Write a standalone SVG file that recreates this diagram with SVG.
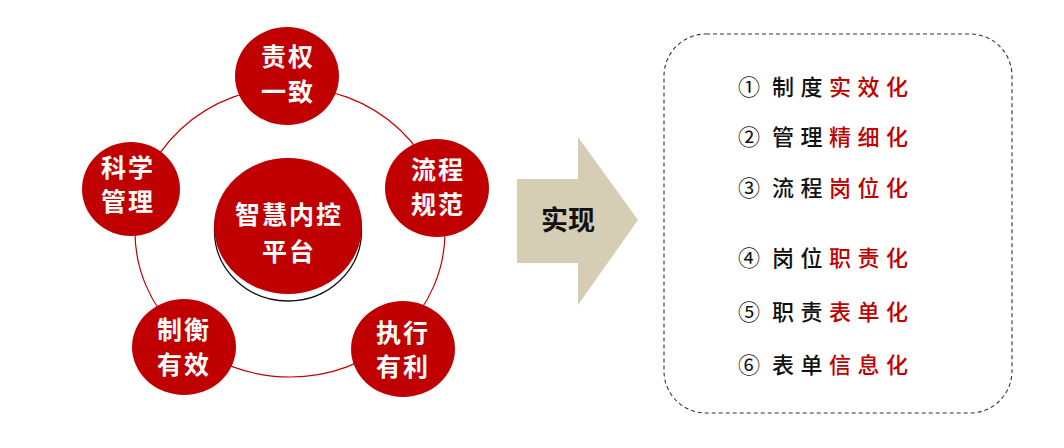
<svg xmlns="http://www.w3.org/2000/svg" width="1064" height="448" viewBox="0 0 1064 448">
<style>
.node{fill:#C00000;}
.nt{font-family:"Noto Sans CJK SC","Noto Sans",sans-serif;font-weight:700;font-size:25px;fill:#fff;text-anchor:middle;letter-spacing:2px;}
.ring{fill:none;stroke:#C00000;stroke-width:1.2;}
.lt{font-family:"Noto Sans CJK SC","Noto Sans",sans-serif;font-weight:500;font-size:22px;fill:#111;letter-spacing:6.5px;}
.red{fill:#C00000;}
.num{font-family:"Noto Sans CJK SC","DejaVu Sans",sans-serif;font-size:22px;fill:#111;text-anchor:middle;}
</style>
<rect width="1064" height="448" fill="#fff"/>
<g id="connectors">
<ellipse class="ring" cx="290" cy="232" rx="155" ry="145"/>
</g>
<g id="center">
<ellipse cx="288" cy="231" rx="73.5" ry="70" fill="#fff" stroke="#111" stroke-width="1.3"/>
<ellipse class="node" cx="288" cy="226" rx="74" ry="68"/>
<text class="nt" x="289" y="224">智慧内控</text>
<text class="nt" x="289" y="261">平台</text>
</g>
<g id="n-top">
<ellipse class="node" cx="287" cy="76" rx="52" ry="49"/>
<text class="nt" x="288" y="66">责权</text>
<text class="nt" x="288" y="101">一致</text>
</g>
<g id="n-right">
<ellipse class="node" cx="437" cy="188" rx="52" ry="49"/>
<text class="nt" x="438" y="179">流程</text>
<text class="nt" x="438" y="214">规范</text>
</g>
<g id="n-left">
<ellipse class="node" cx="131" cy="189" rx="49" ry="47"/>
<text class="nt" x="128" y="177">科学</text>
<text class="nt" x="128" y="211">管理</text>
</g>
<g id="n-bl">
<ellipse class="node" cx="184" cy="347" rx="52" ry="48"/>
<text class="nt" x="184" y="339">制衡</text>
<text class="nt" x="184" y="374">有效</text>
</g>
<g id="n-br">
<ellipse class="node" cx="403" cy="349" rx="52" ry="48"/>
<text class="nt" x="403" y="342">执行</text>
<text class="nt" x="403" y="376">有利</text>
</g>
<g id="arrow">
<polygon points="517,179 578,179 578,137 638,220 578,305 578,263 517,263" fill="#D6CDB5"/>
<text x="568" y="230" font-family="'Noto Sans CJK SC',sans-serif" font-weight="700" font-size="27" fill="#111" text-anchor="middle">实现</text>
</g>
<g id="box">
<rect x="664" y="34" width="348" height="379" rx="42" ry="42" fill="none" stroke="#333" stroke-width="1.1" stroke-dasharray="4,3"/>
<text class="num" x="749" y="95">①</text>
<text class="lt" x="772" y="95">制度<tspan class="red">实效化</tspan></text>
<text class="num" x="749" y="145">②</text>
<text class="lt" x="772" y="145">管理<tspan class="red">精细化</tspan></text>
<text class="num" x="749" y="196">③</text>
<text class="lt" x="772" y="196">流程<tspan class="red">岗位化</tspan></text>
<text class="num" x="749" y="266">④</text>
<text class="lt" x="772" y="266">岗位<tspan class="red">职责化</tspan></text>
<text class="num" x="749" y="320">⑤</text>
<text class="lt" x="772" y="320">职责<tspan class="red">表单化</tspan></text>
<text class="num" x="749" y="373">⑥</text>
<text class="lt" x="772" y="373">表单<tspan class="red">信息化</tspan></text>
</g>
</svg>
